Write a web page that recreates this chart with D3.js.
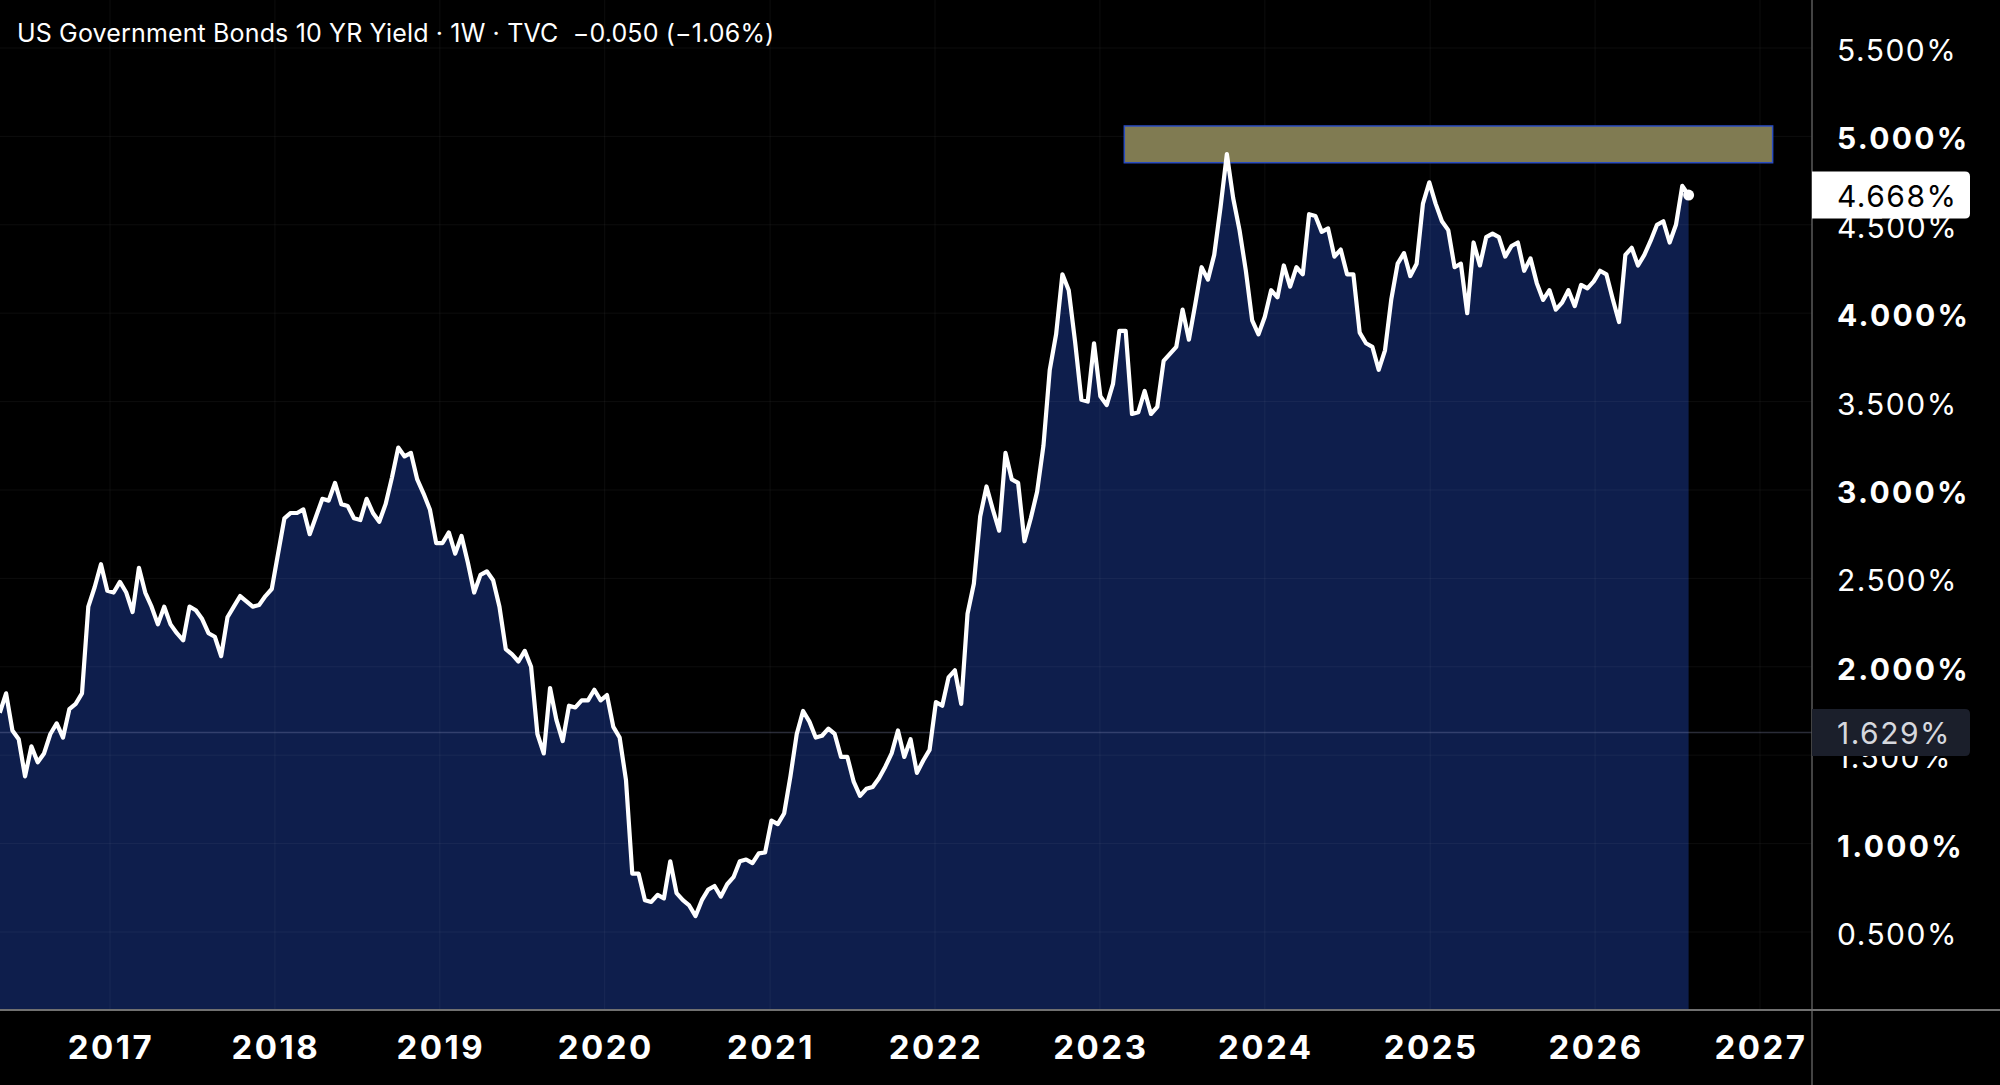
<!DOCTYPE html>
<html>
<head>
<meta charset="utf-8">
<script src="https://cdn.jsdelivr.net/npm/d3@7"></script>
<style>
  body { margin: 0; background: #000; overflow: hidden; }
</style>
</head>
<body>
<script>
const width = 2000;
const height = 1085;
const plot = { right: 1812, bottom: 1010 };

const title = "US Government Bonds 10 YR Yield · 1W · TVC  −0.050 (−1.06%)";

// biweekly closes
const startDate = "2016-05-02";
const stepDays = 14;
const yieldValues = [
  1.74, 1.85, 1.64, 1.59, 1.38, 1.55, 1.46, 1.51, 1.62, 1.68,
  1.60, 1.76, 1.79, 1.85, 2.34, 2.45, 2.58, 2.43, 2.42, 2.48,
  2.42, 2.31, 2.56, 2.42, 2.34, 2.24, 2.34, 2.24, 2.19, 2.15,
  2.34, 2.32, 2.27, 2.19, 2.17, 2.06, 2.28, 2.34, 2.40, 2.37,
  2.34, 2.35, 2.40, 2.44, 2.64, 2.84, 2.87, 2.87,
  2.89, 2.75, 2.85, 2.95, 2.94, 3.04, 2.92, 2.91, 2.84, 2.83,
  2.95, 2.87, 2.82, 2.92, 3.07, 3.24, 3.19, 3.21, 3.06, 2.98,
  2.89, 2.70, 2.70, 2.76, 2.64, 2.74, 2.59, 2.42, 2.52, 2.54,
  2.49, 2.34, 2.10, 2.07, 2.03, 2.09, 2.00, 1.62, 1.51, 1.88,
  1.70, 1.58, 1.78, 1.77, 1.81, 1.81, 1.87, 1.81, 1.84,
  1.66, 1.60, 1.36, 0.83, 0.83, 0.68, 0.67, 0.71, 0.69, 0.90,
  0.72, 0.68, 0.65, 0.59, 0.68, 0.74, 0.76, 0.70, 0.77, 0.81,
  0.90, 0.91, 0.89, 0.945, 0.95, 1.13, 1.11, 1.17, 1.38, 1.62,
  1.75, 1.69, 1.60, 1.61, 1.65, 1.62, 1.49, 1.49, 1.35, 1.27,
  1.31, 1.32, 1.37, 1.435, 1.51, 1.64, 1.49, 1.59, 1.40, 1.47,
  1.53, 1.80, 1.78, 1.94, 1.98, 1.79, 2.30, 2.47, 2.85, 3.02,
  2.89, 2.77, 3.21,
  3.06, 3.04, 2.71, 2.84, 2.99, 3.25, 3.68, 3.88, 4.22, 4.13,
  3.84, 3.51, 3.50, 3.83, 3.53, 3.48, 3.60, 3.90, 3.90, 3.43,
  3.44, 3.56, 3.43, 3.47, 3.73, 3.77, 3.81, 4.02, 3.85, 4.05,
  4.26, 4.19, 4.33, 4.60, 4.90, 4.65, 4.47, 4.24, 3.96, 3.88,
  3.98, 4.13, 4.09, 4.27, 4.15, 4.26, 4.22, 4.56, 4.55, 4.46,
  4.48, 4.32, 4.36, 4.22, 4.22, 3.89, 3.83, 3.81, 3.68, 3.79,
  4.08, 4.28, 4.34,
  4.21, 4.28, 4.62, 4.74, 4.62, 4.52, 4.47, 4.26, 4.28, 4.00,
  4.40, 4.27, 4.43, 4.45, 4.43, 4.32, 4.38, 4.40, 4.24, 4.31,
  4.17, 4.075, 4.13, 4.02, 4.06, 4.13, 4.04, 4.16, 4.14, 4.18,
  4.24, 4.22, 4.08, 3.95, 4.33, 4.37, 4.27, 4.33, 4.41, 4.50,
  4.52, 4.40, 4.50, 4.72, 4.668
];

const yearTicks = [2017, 2018, 2019, 2020, 2021, 2022, 2023, 2024, 2025, 2026, 2027];
const yTicks = [0.5, 1, 1.5, 2, 2.5, 3, 3.5, 4, 4.5, 5, 5.5];

const zoneDates = ["2023-02-24", "2027-01-29"];
const zoneYields = [4.851, 5.059];

const lastValue = 4.668;
const markValue = 1.629;

const parseDate = d3.timeParse("%Y-%m-%d");
const start = parseDate(startDate);
const data = yieldValues.map((v, i) => ({ date: d3.timeDay.offset(start, i * stepDays), value: v }));

const x = d3.scaleTime()
  .domain([new Date(2017, 0, 1), new Date(2027, 0, 1)])
  .range([110, 1760]);

const y = d3.scaleLinear()
  .domain([0, 5.5])
  .range([1020.4, 48]);

const font = "Inter, 'Noto Sans', sans-serif";

const svg = d3.select("body")
  .append("svg")
    .attr("width", width)
    .attr("height", height)
    .style("background", "#000")
    .style("display", "block");

svg.append("defs")
  .append("clipPath")
    .attr("id", "plot-clip")
  .append("rect")
    .attr("x", 0)
    .attr("y", 0)
    .attr("width", plot.right)
    .attr("height", plot.bottom);

const chart = svg.append("g").attr("clip-path", "url(#plot-clip)");

// area fill
chart.append("path")
  .datum(data)
  .attr("fill", "#0e1e4c")
  .attr("d", d3.area()
    .x(d => x(d.date))
    .y0(plot.bottom)
    .y1(d => y(d.value)));

// faint grid
chart.selectAll(".hgrid")
  .data(yTicks)
  .join("line")
    .attr("class", "hgrid")
    .attr("x1", 0)
    .attr("x2", plot.right)
    .attr("y1", d => y(d))
    .attr("y2", d => y(d))
    .attr("stroke", "#fff")
    .attr("stroke-opacity", 0.05);

chart.selectAll(".vgrid")
  .data(yearTicks)
  .join("line")
    .attr("class", "vgrid")
    .attr("x1", d => x(new Date(d, 0, 1)))
    .attr("x2", d => x(new Date(d, 0, 1)))
    .attr("y1", 0)
    .attr("y2", plot.bottom)
    .attr("stroke", "#fff")
    .attr("stroke-opacity", 0.05);

// horizontal marker line at 1.629%
chart.append("line")
  .attr("x1", 0)
  .attr("x2", plot.right)
  .attr("y1", y(markValue))
  .attr("y2", y(markValue))
  .attr("stroke", "#8a93b8")
  .attr("stroke-opacity", 0.3)
  .attr("stroke-width", 1.5);

// resistance zone
chart.append("rect")
  .attr("x", x(parseDate(zoneDates[0])))
  .attr("y", y(zoneYields[1]))
  .attr("width", x(parseDate(zoneDates[1])) - x(parseDate(zoneDates[0])))
  .attr("height", y(zoneYields[0]) - y(zoneYields[1]))
  .attr("fill", "#807b52")
  .attr("stroke", "#2a4cc0")
  .attr("stroke-width", 1.5);

// yield line
chart.append("path")
  .datum(data)
  .attr("fill", "none")
  .attr("stroke", "#fff")
  .attr("stroke-width", 4.2)
  .attr("stroke-linejoin", "round")
  .attr("d", d3.line()
    .x(d => x(d.date))
    .y(d => y(d.value)));

const last = data[data.length - 1];
chart.append("circle")
  .attr("cx", x(last.date))
  .attr("cy", y(lastValue))
  .attr("r", 5.5)
  .attr("fill", "#fff");

// axes lines
svg.append("line")
  .attr("x1", plot.right)
  .attr("x2", plot.right)
  .attr("y1", 0)
  .attr("y2", height)
  .attr("stroke", "#5a5a5a")
  .attr("stroke-width", 1.5);

svg.append("line")
  .attr("x1", 0)
  .attr("x2", width)
  .attr("y1", plot.bottom)
  .attr("y2", plot.bottom)
  .attr("stroke", "#707070")
  .attr("stroke-width", 2);

// y labels
svg.selectAll(".ylabel")
  .data(yTicks)
  .join("text")
    .attr("class", "ylabel")
    .attr("x", 1837)
    .attr("y", d => y(d) + 2)
    .attr("dominant-baseline", "central")
    .attr("fill", "#fff")
    .style("font-family", font)
    .style("font-size", "30px")
    .style("font-weight", d => Number.isInteger(d) ? 700 : 400)
    .style("letter-spacing", d => Number.isInteger(d) ? "2.3px" : "1.5px")
    .text(d => d.toFixed(3) + "%");

// x labels
svg.selectAll(".xlabel")
  .data(yearTicks)
  .join("text")
    .attr("class", "xlabel")
    .attr("x", d => x(new Date(d, 0, 1)) + 1)
    .attr("y", 1059)
    .attr("text-anchor", "middle")
    .attr("fill", "#fff")
    .style("font-family", font)
    .style("font-size", "33px")
    .style("font-weight", 700)
    .style("letter-spacing", "2.5px")
    .text(d => d);

// price tags on the axis
function tagPath(cy) {
  const x0 = plot.right, x1 = 1970, y0 = cy - 23.5, y1 = cy + 23.5, r = 5;
  return `M${x0},${y0}H${x1 - r}Q${x1},${y0} ${x1},${y0 + r}V${y1 - r}Q${x1},${y1} ${x1 - r},${y1}H${x0}Z`;
}

const tags = [
  { value: lastValue, fill: "#ffffff", color: "#000" },
  { value: markValue, fill: "#1b1f2b", color: "#d6d8de" }
];

const tag = svg.selectAll(".tag")
  .data(tags)
  .join("g")
    .attr("class", "tag");

tag.append("path")
  .attr("d", d => tagPath(y(d.value)))
  .attr("fill", d => d.fill);

tag.append("text")
  .attr("x", 1837)
  .attr("y", d => y(d.value) + 1)
  .attr("dominant-baseline", "central")
  .attr("fill", d => d.color)
  .style("font-family", font)
  .style("font-size", "30px")
  .style("letter-spacing", "1.5px")
  .text(d => d.value.toFixed(3) + "%");

// title
svg.append("text")
  .attr("x", 17)
  .attr("y", 42)
  .attr("fill", "#fff")
  .style("font-family", font)
  .style("font-size", "25px")
  .style("letter-spacing", "0.15px")
  .style("white-space", "pre")
  .text(title);
</script>
</body>
</html>
